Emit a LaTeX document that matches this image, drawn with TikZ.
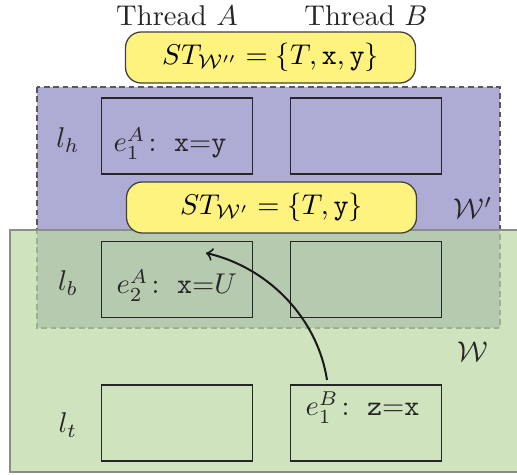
\documentclass[tikz,border=0pt]{standalone}
\usepackage{amsmath}
\begin{document}
\begin{tikzpicture}[x=0.35pt,y=-0.35pt,
  cell/.style={draw=black!85,line width=0.45pt,minimum width=151*0.35pt,minimum height=76*0.35pt,inner sep=0pt},
  stbox/.style={draw=black!75,fill=ylw,rounded corners=5.5pt,line width=0.45pt,minimum width=290*0.35pt,minimum height=51*0.35pt,inner sep=0pt},
  txt/.style={anchor=base west,inner sep=0pt,text=black!85},
  lbl/.style={inner sep=0pt,text=black!85}]
\definecolor{prp}{RGB}{174,172,212}
\definecolor{grn}{RGB}{186,216,162}
\definecolor{ylw}{RGB}{255,243,128}
\useasboundingbox (0,0) rectangle (517,475);
% W' region
\draw[fill=prp,draw=black!65,dash pattern=on 2pt off 1.3pt,line width=0.45pt] (37,87) rectangle (500,328);
% top ST box
\node[stbox] (st2) at (270.5,57.5) {$ST_{\mathcal{W}''} = \{T, \mathtt{x}, \mathtt{y}\}$};
% row h cells
\node[cell] (hA) at (177,136) {};
\node[cell] (hB) at (366,136) {};
% W region
\fill[grn,opacity=0.7] (10,230) rectangle (517,472);
\draw[black!45,line width=0.5pt] (517,230) -- (10,230) -- (10,472) -- (517,472);
% ST' box
\node[stbox] (st1) at (271.5,207.5) {$ST_{\mathcal{W}'} = \{T, \mathtt{y}\}$};
% rows b, t
\node[cell] (bA) at (177,279.5) {};
\node[cell] (bB) at (366,279.5) {};
\node[cell] (tA) at (177,423) {};
\node[cell] (tB) at (366,423) {};
% texts
\node[txt] (e1A) at (113,152) {$e_1^A\colon\;\mathtt{x}\mathord{=}\mathtt{y}$};
\node[txt] (e2A) at (116,294) {$e_2^A\colon\;\mathtt{x}\mathord{=}U$};
\node[txt] (e1B) at (305,416) {$e_1^B\colon\;\mathtt{z}\mathord{=}\mathtt{x}$};
% labels
\node[lbl] (thA) at (177,16) {Thread $A$};
\node[lbl] (thB) at (366,16) {Thread $B$};
\node[lbl] (lh) at (68,140) {$l_h$};
\node[lbl] (lb) at (68,283) {$l_b$};
\node[lbl] (lt) at (68,425) {$l_t$};
\node[lbl] (Wp) at (473,208) {$\mathcal{W}'$};
\node[lbl] (W) at (473,352) {$\mathcal{W}$};
% arrow
\coordinate (aS) at (327,380);
\coordinate (aE) at (206,253);
\draw[->,line width=0.7pt,black!90] (aS) .. controls (318,320) and (270,268) .. (aE);
\end{tikzpicture}
\end{document}
